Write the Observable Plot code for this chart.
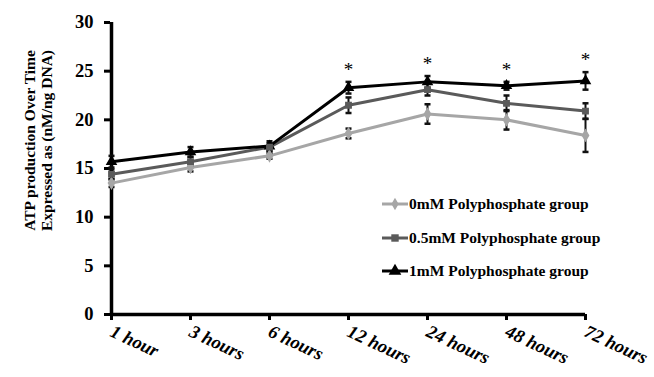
<!DOCTYPE html>
<html>
<head>
<meta charset="utf-8">
<script src="https://cdn.jsdelivr.net/npm/d3@7"></script>
<script src="https://cdn.jsdelivr.net/npm/@observablehq/plot@0.6"></script>
<style>
  body { margin: 0; background: #fff; }
  #wrap { position: relative; width: 654px; height: 377px; }
  #legend { position: absolute; left: 0; top: 0; pointer-events: none; }
</style>
</head>
<body>
<div id="wrap"></div>
<script>
const times = ["1 hour", "3 hours", "6 hours", "12 hours", "24 hours", "48 hours", "72 hours"];
const groups = ["0mM Polyphosphate group", "0.5mM Polyphosphate group", "1mM Polyphosphate group"];
const atp0  = [13.5, 15.1, 16.3, 18.6, 20.6, 20.0, 18.4];
const err0  = [0.4, 0.4, 0.3, 0.5, 1.0, 1.0, 1.7];
const atp05 = [14.4, 15.7, 17.2, 21.5, 23.1, 21.7, 20.9];
const err05 = [0.5, 0.5, 0.4, 0.8, 0.6, 0.8, 0.8];
const atp1  = [15.7, 16.7, 17.3, 23.3, 23.9, 23.5, 24.0];
const err1  = [0.6, 0.5, 0.5, 0.6, 0.6, 0.4, 0.9];
const significant = ["12 hours", "24 hours", "48 hours", "72 hours"];
const yTicks = [0, 5, 10, 15, 20, 25, 30];

const colors = ["#a6a6a6", "#5a5a5a", "#000000"];
const symbols = ["diamond", "square", "triangle"];
const radii = [5.5, 4.8, 6];

const series = [atp0, atp05, atp1];
const errs = [err0, err05, err1];
const rows = [];
series.forEach((vals, g) => vals.forEach((v, i) => rows.push({group: groups[g], time: times[i], value: v, err: errs[g][i]})));
const stars = rows.filter(d => d.group === groups[2] && significant.includes(d.time));

const serif = "'Liberation Serif', 'DejaVu Serif', serif";
const cap = {draw(ctx, size) { const r = Math.sqrt(size / Math.PI); ctx.moveTo(-r, 0); ctx.lineTo(r, 0); }};

const plot = Plot.plot({
  width: 654,
  height: 377,
  marginLeft: 110,
  marginRight: 68,
  marginTop: 22,
  marginBottom: 63,
  style: {fontFamily: serif, background: "#fff"},
  x: {type: "point", domain: times, padding: 0, label: null},
  y: {domain: [0, 30], label: null},
  color: {domain: groups, range: colors},
  symbol: {domain: groups, range: symbols},
  marks: [
    Plot.axisY({ticks: yTicks, tickSize: 6, tickPadding: 11, strokeWidth: 3, fontSize: 18.5, fontWeight: "bold", fill: "#000"}),
    Plot.axisX({tickSize: 6, tickPadding: 10, tickRotate: 25, strokeWidth: 3, fontSize: 18.5, fontWeight: "bold", fontStyle: "italic", fill: "#000"}),
    Plot.ruleX([0], {x: () => times[0], y1: 0, y2: 30, strokeWidth: 3.5}),
    Plot.ruleY([0], {x1: () => times[0], x2: () => times[times.length - 1], strokeWidth: 3.5}),
    Plot.text(["ATP production Over Time"], {frameAnchor: "left", text: d => d, rotate: -90, textAnchor: "middle", dx: -80, dy: -28, fontSize: 15.5, fontWeight: "bold", fill: "#000"}),
    Plot.text(["Expressed as (nM/ng DNA)"], {frameAnchor: "left", text: d => d, rotate: -90, textAnchor: "middle", dx: -63, dy: -28, fontSize: 15.5, fontWeight: "bold", fill: "#000"}),
    Plot.line(rows, {x: "time", y: "value", z: "group", stroke: "group", strokeWidth: 3}),
    Plot.ruleX(rows, {x: "time", y1: d => d.value - d.err, y2: d => d.value + d.err, stroke: "#111", strokeWidth: 2}),
    Plot.dot(rows, {x: "time", y: d => d.value - d.err, symbol: cap, r: 3, stroke: "#111", strokeWidth: 2.5}),
    Plot.dot(rows, {x: "time", y: d => d.value + d.err, symbol: cap, r: 3, stroke: "#111", strokeWidth: 2.5}),
    Plot.dot(rows, {x: "time", y: "value", fill: "group", stroke: "group", symbol: "group", r: d => radii[groups.indexOf(d.group)]}),
    Plot.text(stars, {x: "time", y: d => d.value + d.err, text: () => "*", dy: -6, fontSize: 19, fill: "#000", lineAnchor: "bottom"})
  ]
});

const wrap = document.getElementById("wrap");
wrap.appendChild(plot);

// Legend (inside the plot area)
const leg = d3.select(wrap).append("svg").attr("id", "legend").attr("width", 654).attr("height", 377);
const legY = [204, 238, 271];
groups.forEach((g, i) => {
  const row = leg.append("g").attr("transform", `translate(0,${legY[i]})`);
  row.append("line").attr("x1", 382).attr("x2", 408).attr("y1", 0).attr("y2", 0)
    .attr("stroke", colors[i]).attr("stroke-width", 3);
  const sym = d3.symbol().type([d3.symbolDiamond, d3.symbolSquare, d3.symbolTriangle][i]).size([45, 55, 70][i]);
  row.append("path").attr("d", sym()).attr("transform", "translate(395,0)").attr("fill", colors[i]);
  row.append("text").attr("x", 409).attr("y", 0).attr("dy", "0.35em")
    .attr("font-family", serif).attr("font-weight", "bold").attr("font-size", 15.5).attr("fill", "#000").text(g);
});
</script>
</body>
</html>
